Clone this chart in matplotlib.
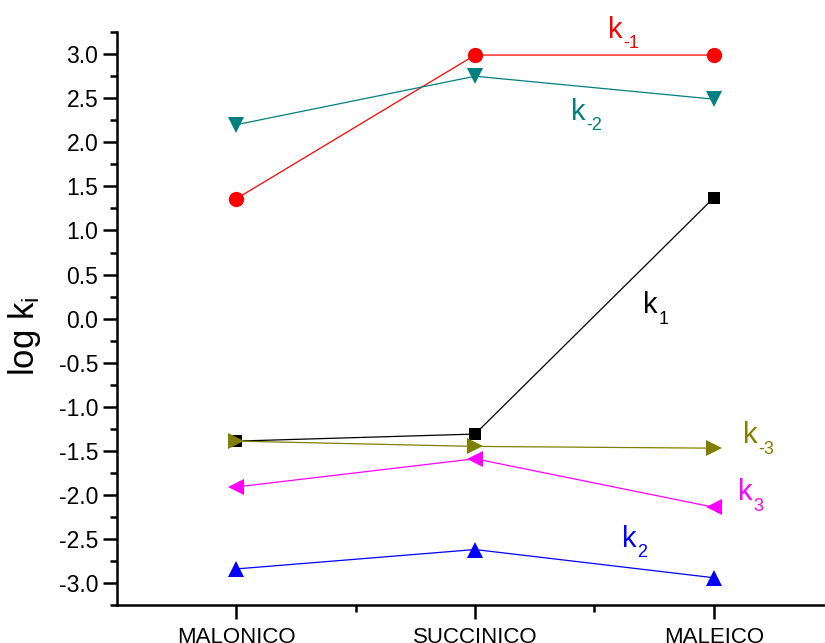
import matplotlib
matplotlib.use("Agg")
import matplotlib.pyplot as plt
from matplotlib.ticker import MultipleLocator, FixedLocator

plt.rcParams['font.family'] = ['Liberation Sans', 'DejaVu Sans']
plt.rcParams['mathtext.fontset'] = 'custom'
plt.rcParams['mathtext.rm'] = 'Liberation Sans'
plt.rcParams['mathtext.it'] = 'Liberation Sans'

categories = ["MALONICO", "SUCCINICO", "MALEICO"]
x_pos = [1, 2, 3]

k_m1 = [1.36, 2.99, 2.99]
k_m2 = [2.20, 2.75, 2.49]
k_1 = [-1.39, -1.31, 1.37]
k_m3 = [-1.39, -1.45, -1.47]
k_3 = [-1.91, -1.59, -2.14]
k_2 = [-2.84, -2.62, -2.94]

y_ticks = [-3.0, -2.5, -2.0, -1.5, -1.0, -0.5, 0.0, 0.5, 1.0, 1.5, 2.0, 2.5, 3.0]

# (values, colour, marker, marker size, subscript, label anchor in data coords)
series = [
    (k_m1, "#FF0000", "o", 11, "-1", (2.618, 3.185)),
    (k_m2, "#008080", "v", 11, "-2", (2.463, 2.256)),
    (k_1, "#000000", "s", 9, "1", (2.765, 0.059)),
    (k_m3, "#808000", ">", 11, "-3", (3.184, -1.413)),
    (k_3, "#FF00FF", "<", 11, "3", (3.163, -2.059)),
    (k_2, "#0000FF", "^", 11, "2", (2.677, -2.591)),
]

fig = plt.figure(figsize=(8.25, 6.43), dpi=100)
ax = fig.add_axes([0.1418, 0.059, 0.868, 0.891])

for vals, color, marker, ms, sub, (lx, ly) in series:
    ax.plot(x_pos, vals, color=color, marker=marker, markersize=ms,
            linewidth=0.9, markeredgewidth=0)
    ax.text(lx, ly, "k", color=color, fontsize=21, ha="right", va="baseline")
    ax.annotate(sub, xy=(lx, ly), xytext=(0.5, -7.5), textcoords="offset points",
                color=color, fontsize=13, ha="left", va="baseline")

ax.set_xlim(0.5, 3.5)
ax.set_ylim(-3.25, 3.25)

ax.spines['top'].set_visible(False)
ax.spines['right'].set_visible(False)
for s in ('left', 'bottom'):
    ax.spines[s].set_linewidth(1.8)

ax.yaxis.set_minor_locator(MultipleLocator(0.25))
ax.set_yticks(y_ticks)
ax.set_yticklabels([f"{v:.1f}" for v in y_ticks])
ax.set_xticks(x_pos)
ax.set_xticklabels(categories, fontsize=16)
ax.xaxis.set_minor_locator(FixedLocator([1.5, 2.5, 3.5]))

ax.tick_params(axis='both', which='major', direction='out', length=10, width=1.8, labelsize=16.5)
ax.tick_params(axis='x', which='major', labelsize=16, pad=6)
ax.tick_params(axis='both', which='minor', direction='out', length=5, width=1.8)

ax.set_ylabel("log k$_{\\mathregular{i}}$", fontsize=25)
ax.yaxis.set_label_coords(-0.103, 0.47)

fig.savefig("out.png", dpi=100)
